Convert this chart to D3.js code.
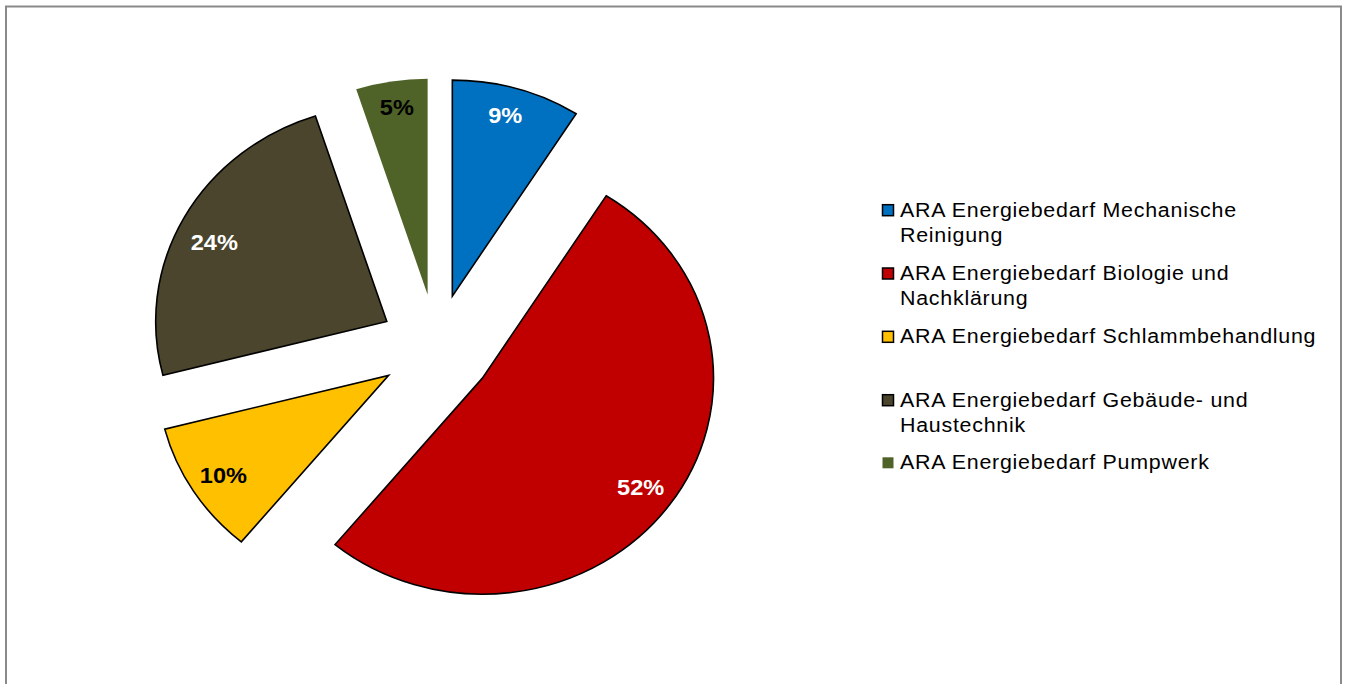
<!DOCTYPE html>
<html>
<head>
<meta charset="utf-8">
<script src="https://cdn.jsdelivr.net/npm/d3@7"></script>
<style>
  html, body { margin: 0; padding: 0; background: #fff; }
  svg { display: block; }
</style>
</head>
<body>
<svg id="chart" width="1349" height="684"></svg>
<script>
const categories = [
  "ARA Energiebedarf Mechanische Reinigung",
  "ARA Energiebedarf Biologie und Nachklärung",
  "ARA Energiebedarf Schlammbehandlung",
  "ARA Energiebedarf Gebäude- und Haustechnik",
  "ARA Energiebedarf Pumpwerk"
];
const legendLines = [
  ["ARA Energiebedarf Mechanische", "Reinigung"],
  ["ARA Energiebedarf Biologie und", "Nachklärung"],
  ["ARA Energiebedarf Schlammbehandlung"],
  ["ARA Energiebedarf Gebäude- und", "Haustechnik"],
  ["ARA Energiebedarf Pumpwerk"]
];
const values = [9, 52, 10, 24, 5];
const labels = ["9%", "52%", "10%", "24%", "5%"];
const colors = ["#0070C0", "#C00000", "#FFC000", "#4A452C", "#4F6228"];
const labelColors = ["#fff", "#fff", "#000", "#fff", "#000"];
const strokes = ["#000", "#000", "#000", "#000", "none"];

const svg = d3.select("#chart");

// frame
svg.append("rect")
  .attr("x", 6).attr("y", 6.5)
  .attr("width", 1335).attr("height", 700)
  .attr("fill", "#fff")
  .attr("stroke", "#8a8a8a")
  .attr("stroke-width", 2);

const cx = 436.5, cy = 347;
const ry = 216, sx = 1.07;
const explode = 53;
const labelR = 184;
// small label nudges (Excel best-fit placement)
const labelNudge = [[-2, -4], [-1, 1], [1, 1], [0, 9], [0, -6]];

const pie = d3.pie().sort(null).value(d => d);
const arcs = pie(values);
const arc = d3.arc().innerRadius(0).outerRadius(ry);

const g = svg.append("g").attr("transform", `translate(${cx},${cy}) scale(${sx},1)`);

g.selectAll("path")
  .data(arcs)
  .enter().append("path")
  .attr("d", arc)
  .attr("transform", d => {
    const a = (d.startAngle + d.endAngle) / 2;
    return `translate(${Math.sin(a) * explode},${-Math.cos(a) * explode})`;
  })
  .attr("fill", (d, i) => colors[i])
  .attr("stroke", (d, i) => strokes[i])
  .attr("stroke-width", 1.6)
  .attr("stroke-linejoin", "miter")
  .attr("vector-effect", "non-scaling-stroke");

svg.append("g").selectAll("text")
  .data(arcs)
  .enter().append("text")
  .attr("transform", (d, i) => {
    const a = (d.startAngle + d.endAngle) / 2;
    const x = cx + sx * Math.sin(a) * (explode + labelR) + labelNudge[i][0];
    const y = cy - Math.cos(a) * (explode + labelR) + labelNudge[i][1];
    return `translate(${x},${y}) scale(${sx},1)`;
  })
  .attr("text-anchor", "middle")
  .attr("dominant-baseline", "central")
  .attr("font-family", "'Liberation Sans', Arial, sans-serif")
  .attr("font-weight", "bold")
  .attr("font-size", 22)
  .attr("fill", (d, i) => labelColors[i])
  .text((d, i) => labels[i]);

// legend
const legendY = [216.7, 280, 343.3, 406.7, 469.3];
const lg = svg.append("g");
legendLines.forEach((lines, i) => {
  const item = lg.append("g").attr("class", "legend-item");
  item.append("rect")
    .attr("x", 882.5).attr("y", legendY[i] - 12)
    .attr("width", 11).attr("height", 11)
    .attr("fill", colors[i])
    .attr("stroke", strokes[i])
    .attr("stroke-width", 1.5);
  lines.forEach((ln, j) => {
    item.append("text")
      .attr("transform", `translate(900,${legendY[i] + j * 25}) scale(${sx},1)`)
      .attr("font-family", "'Liberation Sans', Arial, sans-serif")
      .attr("font-size", 20)
      .attr("letter-spacing", 0.7)
      .attr("fill", "#000")
      .text(ln);
  });
});
</script>
</body>
</html>
